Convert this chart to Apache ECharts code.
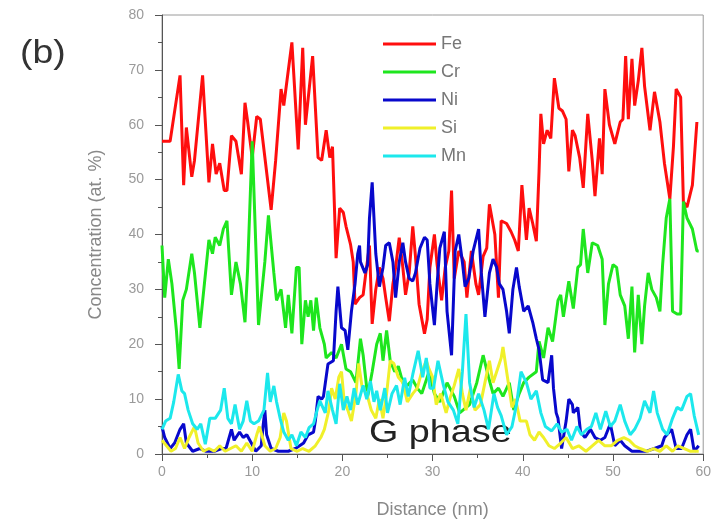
<!DOCTYPE html>
<html>
<head>
<meta charset="utf-8">
<script src="https://cdn.jsdelivr.net/npm/echarts@6/dist/echarts.min.js"></script>
<style>
html,body{margin:0;padding:0;background:#fff;}
#chart{width:714px;height:526px;}
</style>
</head>
<body>
<div id="chart"></div>
<script>
// Series names
const seriesNames = ['Fe', 'Cr', 'Ni', 'Si', 'Mn'];
const seriesColors = ['#ff0e0e', '#1ee61e', '#0808cc', '#f0f02a', '#1ce8ec'];

// Axis ticks
const xTicks = [0, 10, 20, 30, 40, 50, 60];
const yTicks = [0, 10, 20, 30, 40, 50, 60, 70, 80];

// Data: [distance (nm), concentration (at.%)]
const feData = [
[0,57],[0.9,57],[2.0,69],[2.4,49],[2.7,59.5],[3.3,50.5],[3.6,53.5],[4.5,69],[5.2,49.5],[5.6,56.5],
[6.0,51],[6.4,53],[6.9,48],[7.2,48],[7.7,58],[8.2,57],[8.8,51],[9.2,64],[9.5,60.5],[10.0,54],
[10.5,61.5],[10.9,61],[12.1,44.5],[12.6,53.5],[13.2,66.5],[13.5,63.5],[14.4,75],[15.1,55.5],[15.6,74],[15.9,60],
[16.7,72.5],[17.3,54],[17.7,53.5],[18.2,59],[18.6,54],[18.9,56],[19.3,35.7],[19.7,44.8],[20.1,44],[20.4,41.5],
[20.9,38.2],[21.2,35],[21.4,27.3],[21.9,28.5],[22.3,29],[22.6,33],[23.0,38],[23.3,23.7],[23.7,30],[24.1,34],
[24.5,32],[24.8,28.5],[25.2,24.2],[25.6,31],[25.9,34],[26.3,39.4],[26.7,34],[27.0,29],[27.4,33],[27.8,41.5],
[28.1,36],[28.5,27.3],[29.1,21.9],[29.4,24.5],[29.7,34],[30.2,40],[30.5,34.5],[31.0,28],[31.4,34],[31.8,37],
[32.1,48],[32.4,32],[32.9,37],[33.5,35],[33.8,28.5],[34.3,37],[34.8,31],[35.1,29],[35.6,36],[36.0,37.5],
[36.3,45.5],[36.9,40],[37.3,28.5],[37.6,42.5],[38.2,42],[38.7,40.5],[39.1,39],[39.5,37],[39.9,49],[40.4,39],
[40.7,44.8],[41.1,42],[41.5,38.8],[41.8,51.5],[42.0,62],[42.3,56.5],[42.7,59],[43.1,57.5],[43.5,68.5],[44.0,63],
[44.4,62.5],[44.8,61],[45.1,51.5],[45.5,59],[45.8,58],[46.3,54],[46.7,48.5],[47.2,62],[47.7,53.5],[48.0,47],
[48.5,57.5],[48.8,51],[49.1,66.5],[49.6,60],[50.2,56.5],[50.8,60.5],[51.1,61],[51.4,72.5],[51.7,61],[52.1,72],
[52.4,63.5],[52.8,68],[53.2,74],[53.5,67],[54.1,59],[54.6,66],[55.2,60.5],[55.7,53],[56.3,46.5],[56.7,56],
[57.0,66.5],[57.5,65],[57.8,46],[58.2,45],[58.8,49],[59.3,60.5]
];
const crData = [
[0,38],[0.3,28.5],[0.7,35.5],[1.1,31],[1.6,22.5],[1.9,15.5],[2.3,28],[2.7,30],[3.3,36.5],[3.6,33],
[4.2,23],[4.7,31],[5.2,39],[5.6,36.5],[5.9,39.5],[6.4,38],[6.8,41],[7.2,42.5],[7.7,29],[8.2,35],
[8.7,31],[9.2,24],[9.5,34],[10.0,57],[10.4,38],[10.7,23.5],[11.4,35],[11.8,43.5],[12.4,33],[12.7,28],
[13.2,30],[13.7,23],[14.0,29],[14.4,22],[14.9,34],[15.2,34],[15.5,20],[15.9,28],[16.2,25],[16.5,28],
[16.8,22.5],[17.1,28.5],[17.5,23],[18.0,20],[18.2,17.5],[18.8,18.5],[19.3,17.5],[19.9,20],[20.4,15.5],[20.9,15],
[21.5,13],[22.0,21],[22.3,18],[22.8,10.5],[23.3,15],[23.8,20],[24.2,22],[24.5,17],[24.9,22.5],[25.3,17],
[25.8,15],[26.2,16],[26.7,13],[27.2,12.5],[27.8,13.5],[28.3,12],[28.8,11],[29.6,15],[30.2,11],[30.8,9.5],
[31.6,13],[32.4,10.5],[33.0,7.5],[34.1,9],[34.9,13],[35.6,18],[36.2,14],[36.7,11],[37.3,12],[37.8,10.5],
[38.5,13],[39.0,8],[39.6,11],[40.1,13],[40.7,14],[41.5,15],[41.8,20.5],[42.3,17.5],[42.8,23],[43.3,20.5],
[43.9,28],[44.2,29],[44.5,25],[45.1,31.5],[45.6,26.5],[46.1,34],[46.4,34.5],[46.7,41],[47.2,33],[47.7,38.5],
[48.3,38],[48.8,35.5],[49.1,23.5],[49.5,31],[50.0,34.5],[50.4,34],[50.8,29],[51.3,27],[51.7,21],[52.1,30.5],
[52.4,18.5],[52.8,29],[53.2,20],[53.5,27],[53.9,33],[54.3,30],[54.8,28.5],[55.2,26],[55.5,34.5],[55.9,43],
[56.3,46.5],[56.6,26],[57.1,25.5],[57.5,25.5],[57.8,46],[58.2,43],[58.8,41],[59.3,37],[59.5,37]
];
const niData = [
[0,5],[0.3,3],[0.9,1],[1.4,2],[2.0,4.5],[2.4,5.5],[2.7,2],[3.4,0.5],[4.2,1],[4.9,0.5],
[5.8,0.5],[6.6,1],[7.1,1],[7.7,4.5],[8.0,2.5],[8.6,4],[9.0,3],[9.4,3.5],[9.9,2],[10.4,0.5],
[11.0,1.5],[11.2,5],[11.4,8],[11.6,3.5],[12.1,1],[12.9,0.5],[14.0,0.5],[14.8,1],[15.7,2],[16.2,3.5],
[16.8,4],[17.0,6],[17.3,10.5],[17.7,10],[17.9,10.5],[18.4,16.4],[19.0,17],[19.3,26],[19.5,30.5],[19.9,23],
[20.3,22.5],[20.6,19],[21.0,26],[21.4,31],[21.7,36.5],[21.9,38],[22.0,35],[22.5,33],[22.8,34.5],[23.0,43],
[23.3,49.5],[23.7,36.5],[24.1,30.5],[24.5,34],[24.8,38],[25.2,38.5],[25.6,35],[25.9,28.5],[26.3,35],[26.7,38.5],
[27.0,35],[27.4,32],[27.8,31.5],[28.1,33],[28.6,37.5],[29.1,39.5],[29.4,39],[29.7,31],[30.2,23.5],[30.5,31],
[30.8,37.5],[31.3,40.5],[31.6,26],[32.1,18],[32.5,37],[32.9,40],[33.3,35],[33.6,30.5],[34.0,32],[34.5,37],
[35.1,41],[35.4,33],[35.8,25],[36.3,33],[36.7,35.5],[37.1,34],[37.4,31],[37.8,30],[38.2,26],[38.5,22],
[38.9,30],[39.3,34],[39.6,30.5],[40.1,26],[40.6,27],[41.1,24],[41.5,21],[41.8,19],[42.2,13.5],[42.8,13],
[43.2,18],[43.4,12],[43.7,7.5],[43.9,6.5],[44.3,1],[44.8,6],[45.1,10],[45.5,9],[45.6,7.5],[46.1,8.5],
[46.4,4],[46.9,3],[47.5,4.5],[48.0,3],[48.6,2.5],[49.1,3],[49.7,5.5],[50.2,1.5],[50.8,2.5],[51.3,1.5],
[52.1,0.5],[53.0,0.5],[53.7,0.5],[54.6,1],[55.4,1.5],[55.7,3],[56.5,4.5],[57.0,1],[57.6,1],[58.2,3.5],
[58.6,4.5],[59.0,0.5],[59.5,1.5]
];
const siData = [
[0,2.5],[0.5,1.5],[1.0,0.5],[1.5,1],[2.0,3],[2.5,1],[3.0,3],[3.6,5],[4.0,2],[4.6,0.5],
[5.2,1],[5.8,0.5],[6.4,1.5],[7.0,0.5],[7.6,1],[8.2,1.5],[8.8,0.5],[9.4,2],[10.0,0.5],[10.5,3.5],
[10.8,5],[11.4,1.5],[12.0,0.5],[12.6,1],[13.1,3],[13.5,7.5],[13.8,6],[14.3,1],[15.0,0.5],[15.6,1],
[16.3,0.5],[17.0,1.5],[17.6,3],[18.0,4.5],[18.5,8],[18.8,12],[19.2,10],[19.6,14],[19.9,15],[20.2,9.5],
[20.6,8],[21.0,6],[21.5,11],[21.8,16.5],[22.2,12],[22.7,11],[23.2,8],[23.7,6.5],[24.1,10],[24.5,6.5],
[24.9,11],[25.3,17],[25.7,16.5],[26.2,14],[26.7,13],[27.2,9.5],[27.8,11],[28.3,12],[28.8,15],[29.3,17],
[29.6,15.5],[30.0,14],[30.4,9],[30.9,11],[31.5,7.5],[31.9,10],[32.4,12.5],[32.9,15.5],[33.3,11],[33.7,8],
[34.2,12],[34.7,8],[35.3,9],[35.8,13],[36.3,17],[36.7,13],[37.1,15],[37.6,17.5],[37.8,19.5],[38.3,14],
[38.8,8.5],[39.2,10],[39.7,6],[40.4,6],[40.8,3.5],[41.3,2.5],[41.8,4],[42.3,3],[42.9,1.5],[43.5,1],
[44.2,2],[44.8,3],[45.5,1],[46.2,1.5],[47.0,0.5],[47.7,1.5],[48.4,2.5],[49.1,1.5],[49.8,1.5],[50.5,2.5],
[51.2,3],[51.8,2.5],[52.4,1.5],[53.0,1],[53.8,0.5],[54.5,1],[55.2,0.5],[55.9,1.5],[56.6,0.5],[57.2,1.5],
[57.9,1],[58.6,0.5],[59.5,0.5]
];
const mnData = [
[0,4.5],[0.4,6],[0.9,6.5],[1.3,9.5],[1.8,14.5],[2.2,11.5],[2.5,11],[2.9,8],[3.4,5.5],[3.9,4.5],
[4.3,5.5],[4.8,1.8],[5.3,6.5],[5.9,6.5],[6.5,8],[6.9,12],[7.3,6.5],[7.7,5.5],[8.1,9],[8.6,4.5],
[9.0,6],[9.4,9.7],[9.8,6],[10.2,5.5],[10.7,6],[11.3,8],[11.7,14.8],[12.0,9.5],[12.4,12.4],[12.7,9.5],
[13.1,6.5],[13.5,4],[14.0,2.5],[14.4,3.5],[14.9,1.5],[15.4,4],[15.9,3],[16.3,4.8],[16.8,5.5],[17.2,8],
[17.5,9.7],[18.1,7.5],[18.4,11.5],[18.9,8],[19.3,5.5],[19.7,12.8],[20.1,8],[20.5,10.5],[20.9,8],[21.3,12],
[21.7,9],[22.3,12.5],[22.7,10],[23.1,13.3],[23.5,9.5],[23.8,11.5],[24.2,8],[24.7,12],[25.0,7.5],[25.5,11],
[26.0,12.5],[26.4,9],[26.9,13.9],[27.3,10.5],[27.8,14.5],[28.4,18.8],[28.9,14],[29.3,17.5],[29.7,12],[30.1,12],
[30.6,17],[31.2,12.5],[31.7,9.5],[32.3,8],[32.8,5.5],[33.3,15],[33.7,25.5],[34.1,13],[34.6,8.5],[35.1,11],
[35.7,8],[36.2,4.5],[36.8,11],[37.2,8.5],[37.6,7],[38.2,3.5],[38.8,5],[39.3,9],[39.8,15],[40.4,13],
[40.9,10],[41.5,11.5],[42.0,7.5],[42.5,5],[43.2,4.2],[43.8,5.5],[44.3,4],[44.9,4.5],[45.4,2.5],[46.0,5],
[46.5,3.5],[47.1,4.5],[47.6,5],[48.1,7.5],[48.6,4.5],[49.2,7.8],[49.7,5],[50.2,6],[50.8,9],[51.3,6],
[51.9,3.5],[52.4,4.5],[53.0,6.5],[53.5,9.7],[54.1,7.5],[54.5,11.5],[54.9,7.5],[55.5,4.5],[56.0,3.5],[56.6,6.5],
[57.1,8.5],[57.6,8],[58.2,10.5],[58.6,11],[59.0,7],[59.5,3.5]
];
const allData = [feData, crData, niData, siData, mnData];

const chart = echarts.init(document.getElementById('chart'), null, {renderer: 'canvas'});
const labelColor = '#9a9a9a';
const fontFam = 'Liberation Sans, Arial, sans-serif';
const option = {
  animation: false,
  backgroundColor: '#fff',
  grid: {
    left: 162, right: 5, top: 15, bottom: 72,
    show: true, borderColor: '#9a9a9a', borderWidth: 1
  },
  legend: {
    data: seriesNames,
    orient: 'vertical',
    left: 378, top: 30,
    itemWidth: 53, itemHeight: 3,
    itemGap: 10,
    icon: 'rect',
    textStyle: {fontFamily: fontFam, fontSize: 18, color: '#777'}
  },
  xAxis: {
    type: 'value', min: xTicks[0], max: xTicks[xTicks.length - 1], interval: 10,
    name: 'Distance (nm)', nameLocation: 'middle', nameGap: 47,
    nameTextStyle: {fontFamily: fontFam, fontSize: 18, color: '#888'},
    axisLine: {show: true, lineStyle: {color: '#555', width: 1}},
    axisTick: {show: true, inside: false, length: 7, lineStyle: {color: '#555'}},
    minorTick: {show: true, splitNumber: 2, length: 4, lineStyle: {color: '#555'}},
    axisLabel: {fontFamily: fontFam, fontSize: 14, color: labelColor, margin: 11},
    splitLine: {show: false}
  },
  yAxis: {
    type: 'value', min: yTicks[0], max: yTicks[yTicks.length - 1], interval: 10,
    name: 'Concentration (at. %)', nameLocation: 'middle', nameGap: 57,
    nameTextStyle: {fontFamily: fontFam, fontSize: 18, color: '#888'},
    axisLine: {show: true, lineStyle: {color: '#555', width: 1}},
    axisTick: {show: true, inside: false, length: 7, lineStyle: {color: '#555'}},
    minorTick: {show: true, splitNumber: 2, length: 4, lineStyle: {color: '#555'}},
    axisLabel: {fontFamily: fontFam, fontSize: 14, color: labelColor, margin: 18},
    splitLine: {show: false}
  },
  graphic: [
    {type: 'text', left: 20, top: 37, scaleX: 1.1,
     style: {text: '(b)', fontFamily: fontFam, fontSize: 34, fill: '#333'}},
    {type: 'text', left: 369, top: 417, scaleX: 1.18,
     style: {text: 'G phase', fontFamily: fontFam, fontSize: 32, fill: '#222'}}
  ],
  series: seriesNames.map((n, i) => ({
    name: n, type: 'line', data: allData[i],
    showSymbol: false, symbol: 'none',
    lineStyle: {color: seriesColors[i], width: 3},
    itemStyle: {color: seriesColors[i]},
    z: 2 + i
  }))
};
chart.setOption(option);
</script>
</body>
</html>
